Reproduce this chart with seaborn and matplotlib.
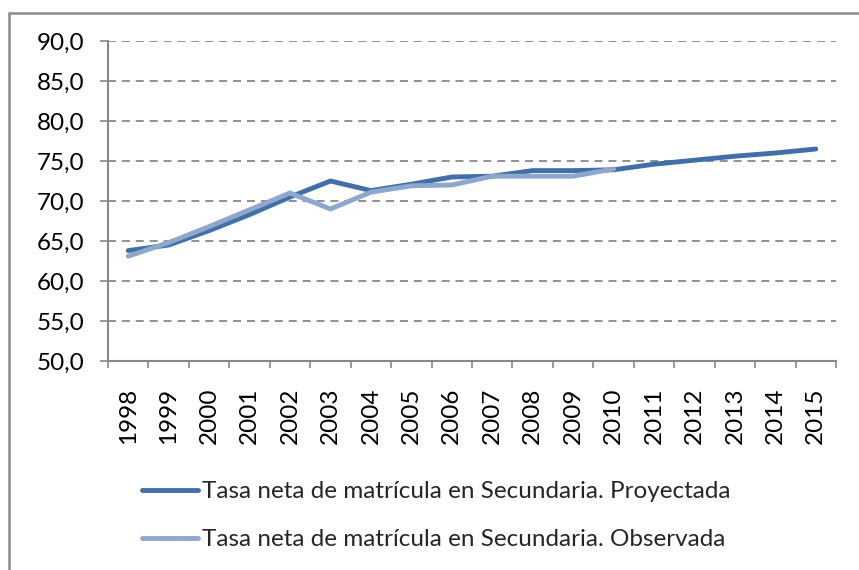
import matplotlib
matplotlib.use("Agg")
import matplotlib.pyplot as plt
import matplotlib.patches as mpatches
from matplotlib.ticker import FixedLocator, FuncFormatter
import numpy as np
import pandas as pd
import seaborn as sns

years = [str(y) for y in range(1998, 2016)]
proyectada = [63.8, 64.5, 66.3, 68.3, 70.5, 72.5, 71.3, 72.1, 73.0, 73.1,
              73.8, 73.8, 73.9, 74.6, 75.1, 75.6, 76.0, 76.5]
observada = [63.1, 64.8, 66.8, 68.9, 71.0, 69.0, 71.1, 71.9, 72.0, 73.1,
             73.1, 73.1, 74.0]

label_proy = "Tasa neta de matrícula en Secundaria. Proyectada"
label_obs = "Tasa neta de matrícula en Secundaria. Observada"

color_proy = "#4170A8"
color_obs = "#8DA7CD"
FS = 17.5

sns.set_style("white")
plt.rcParams["font.family"] = ["Lato", "DejaVu Sans"]

df = pd.concat([
    pd.DataFrame({"pos": np.arange(len(proyectada)), "valor": proyectada, "serie": label_proy}),
    pd.DataFrame({"pos": np.arange(len(observada)), "valor": observada, "serie": label_obs}),
])

fig = plt.figure(figsize=(8.59, 5.70), dpi=100)
ax = fig.add_axes([108 / 859, 1 - 361 / 570, (836 - 108) / 859, (361 - 41) / 570])

sns.lineplot(data=df, x="pos", y="valor", hue="serie",
             palette={label_proy: color_proy, label_obs: color_obs},
             linewidth=3.5, ax=ax, legend=False,
             solid_capstyle="round", solid_joinstyle="miter")

ax.set_xlim(-0.5, len(years) - 0.5)
ax.set_ylim(50, 90)
ax.set_xlabel("")
ax.set_ylabel("")

# y axis
ax.set_yticks(np.arange(50, 90.1, 5))
ax.yaxis.set_major_formatter(FuncFormatter(lambda v, p: f"{v:.1f}".replace(".", ",")))
ax.tick_params(axis="y", which="major", left=True, length=6, width=1.2,
               color="#888888", labelsize=FS, pad=11, labelcolor="black")
ax.grid(axis="y", color="#888888", linestyle=(0, (4.4, 3.3)), linewidth=1.3)
ax.set_axisbelow(True)

# x axis: labels at category centres, tick marks at category boundaries
ax.xaxis.set_major_locator(FixedLocator(np.arange(len(years))))
ax.set_xticklabels(years, rotation=90)
ax.xaxis.set_minor_locator(FixedLocator(np.arange(len(years) + 1) - 0.5))
ax.tick_params(axis="x", which="major", bottom=True, length=0, labelsize=FS, pad=19,
               labelcolor="black")
ax.tick_params(axis="x", which="minor", bottom=True, length=5, width=1.2, color="#888888")

for side in ("top", "right"):
    ax.spines[side].set_visible(False)
for side in ("left", "bottom"):
    ax.spines[side].set_color("#888888")
    ax.spines[side].set_linewidth(1.5)

handles = [plt.Line2D([], [], color=color_proy, lw=3.5, solid_capstyle="round"),
           plt.Line2D([], [], color=color_obs, lw=3.5, solid_capstyle="round")]
fig.legend(handles, [label_proy, label_obs], loc="upper left",
           bbox_to_anchor=(142 / 859, 1 - 481 / 570), frameon=False,
           fontsize=FS, handlelength=2.3, handletextpad=0.15,
           labelspacing=1.12, borderpad=0, borderaxespad=0)

# chart area border
fig.patches.append(mpatches.Rectangle((9 / 859, -0.05), 1.2, 1 - 13 / 570 + 0.05,
                                      transform=fig.transFigure, fill=False,
                                      edgecolor="#8C8C8C", linewidth=1.8))

fig.savefig("out.png", dpi=100)
